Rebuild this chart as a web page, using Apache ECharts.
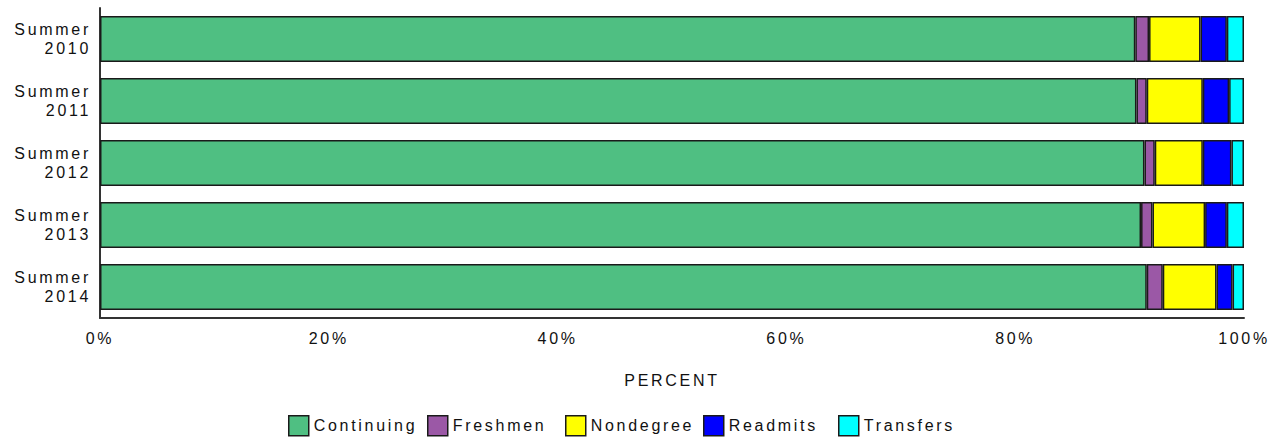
<!DOCTYPE html>
<html>
<head>
<meta charset="utf-8">
<title>Summer enrollment by student type</title>
<script src="https://cdn.jsdelivr.net/npm/echarts@6/dist/echarts.min.js"></script>
<style>
  html, body { margin: 0; padding: 0; background: #fff; }
  #chart { width: 1278px; height: 440px; }
  /* the reference text is widely letter-spaced */
  #chart text { letter-spacing: 2.7px; }
</style>
</head>
<body>
<div id="chart"></div>
<script>
// terms shown on the y axis, top to bottom
const terms = ['Summer\n2010', 'Summer\n2011', 'Summer\n2012', 'Summer\n2013', 'Summer\n2014'];

// percent of students per type, one value per term
const continuing = [90.5, 90.6, 91.3, 91.0, 91.5];
const freshmen   = [1.2, 0.9, 0.9, 1.0, 1.4];
const nondegree  = [4.5, 4.9, 4.2, 4.6, 4.7];
const readmits   = [2.3, 2.3, 2.5, 1.9, 1.4];
const transfers  = [1.5, 1.3, 1.1, 1.5, 1.0];

const seriesNames = ['Continuing', 'Freshmen', 'Nondegree', 'Readmits', 'Transfers'];
const seriesValues = [continuing, freshmen, nondegree, readmits, transfers];
const colors = ['#4fbf82', '#9b58a6', '#ffff00', '#0000ff', '#00ffff'];

// x positions of the legend entries (the original spacing is uneven)
const legendLeft = [288, 427, 565, 703, 838];

const font = '"Liberation Sans", Arial, sans-serif';
const textColor = '#111';

const chart = echarts.init(document.getElementById('chart'), null, { renderer: 'svg' });

const option = {
  animation: false,
  textStyle: { fontFamily: font, color: textColor },
  grid: { left: 100, right: 34, top: 8, bottom: 122 },
  legend: seriesNames.map((name, i) => ({
    data: [name],
    left: legendLeft[i],
    top: 415,
    padding: 0,
    itemWidth: 20,
    itemHeight: 20,
    itemGap: 0,
    icon: 'rect',
    selectedMode: false,
    itemStyle: { borderColor: '#1a1a1a', borderWidth: 1.5 },
    textStyle: { fontFamily: font, fontSize: 16, color: textColor }
  })),
  xAxis: {
    type: 'value',
    min: 0,
    max: 100,
    interval: 20,
    name: 'PERCENT',
    nameLocation: 'middle',
    nameGap: 54,
    nameTextStyle: { fontFamily: font, fontSize: 16, color: textColor },
    axisLine: { show: true, lineStyle: { color: '#333', width: 2 } },
    axisTick: { show: false },
    splitLine: { show: false },
    axisLabel: {
      margin: 12,
      fontFamily: font,
      fontSize: 16,
      color: textColor,
      formatter: '{value}%'
    }
  },
  yAxis: {
    type: 'category',
    data: terms,
    inverse: true,
    axisLine: { show: true, lineStyle: { color: '#333', width: 2 } },
    axisTick: { show: false },
    axisLabel: {
      margin: 9,
      fontFamily: font,
      fontSize: 16,
      lineHeight: 19,
      color: textColor,
      align: 'right'
    }
  },
  series: seriesNames.map((name, i) => ({
    name: name,
    type: 'bar',
    stack: 'total',
    barWidth: '74%',
    data: seriesValues[i],
    itemStyle: {
      color: colors[i],
      borderColor: '#1a1a1a',
      borderWidth: 1.5
    }
  }))
};

chart.setOption(option);
</script>
</body>
</html>
